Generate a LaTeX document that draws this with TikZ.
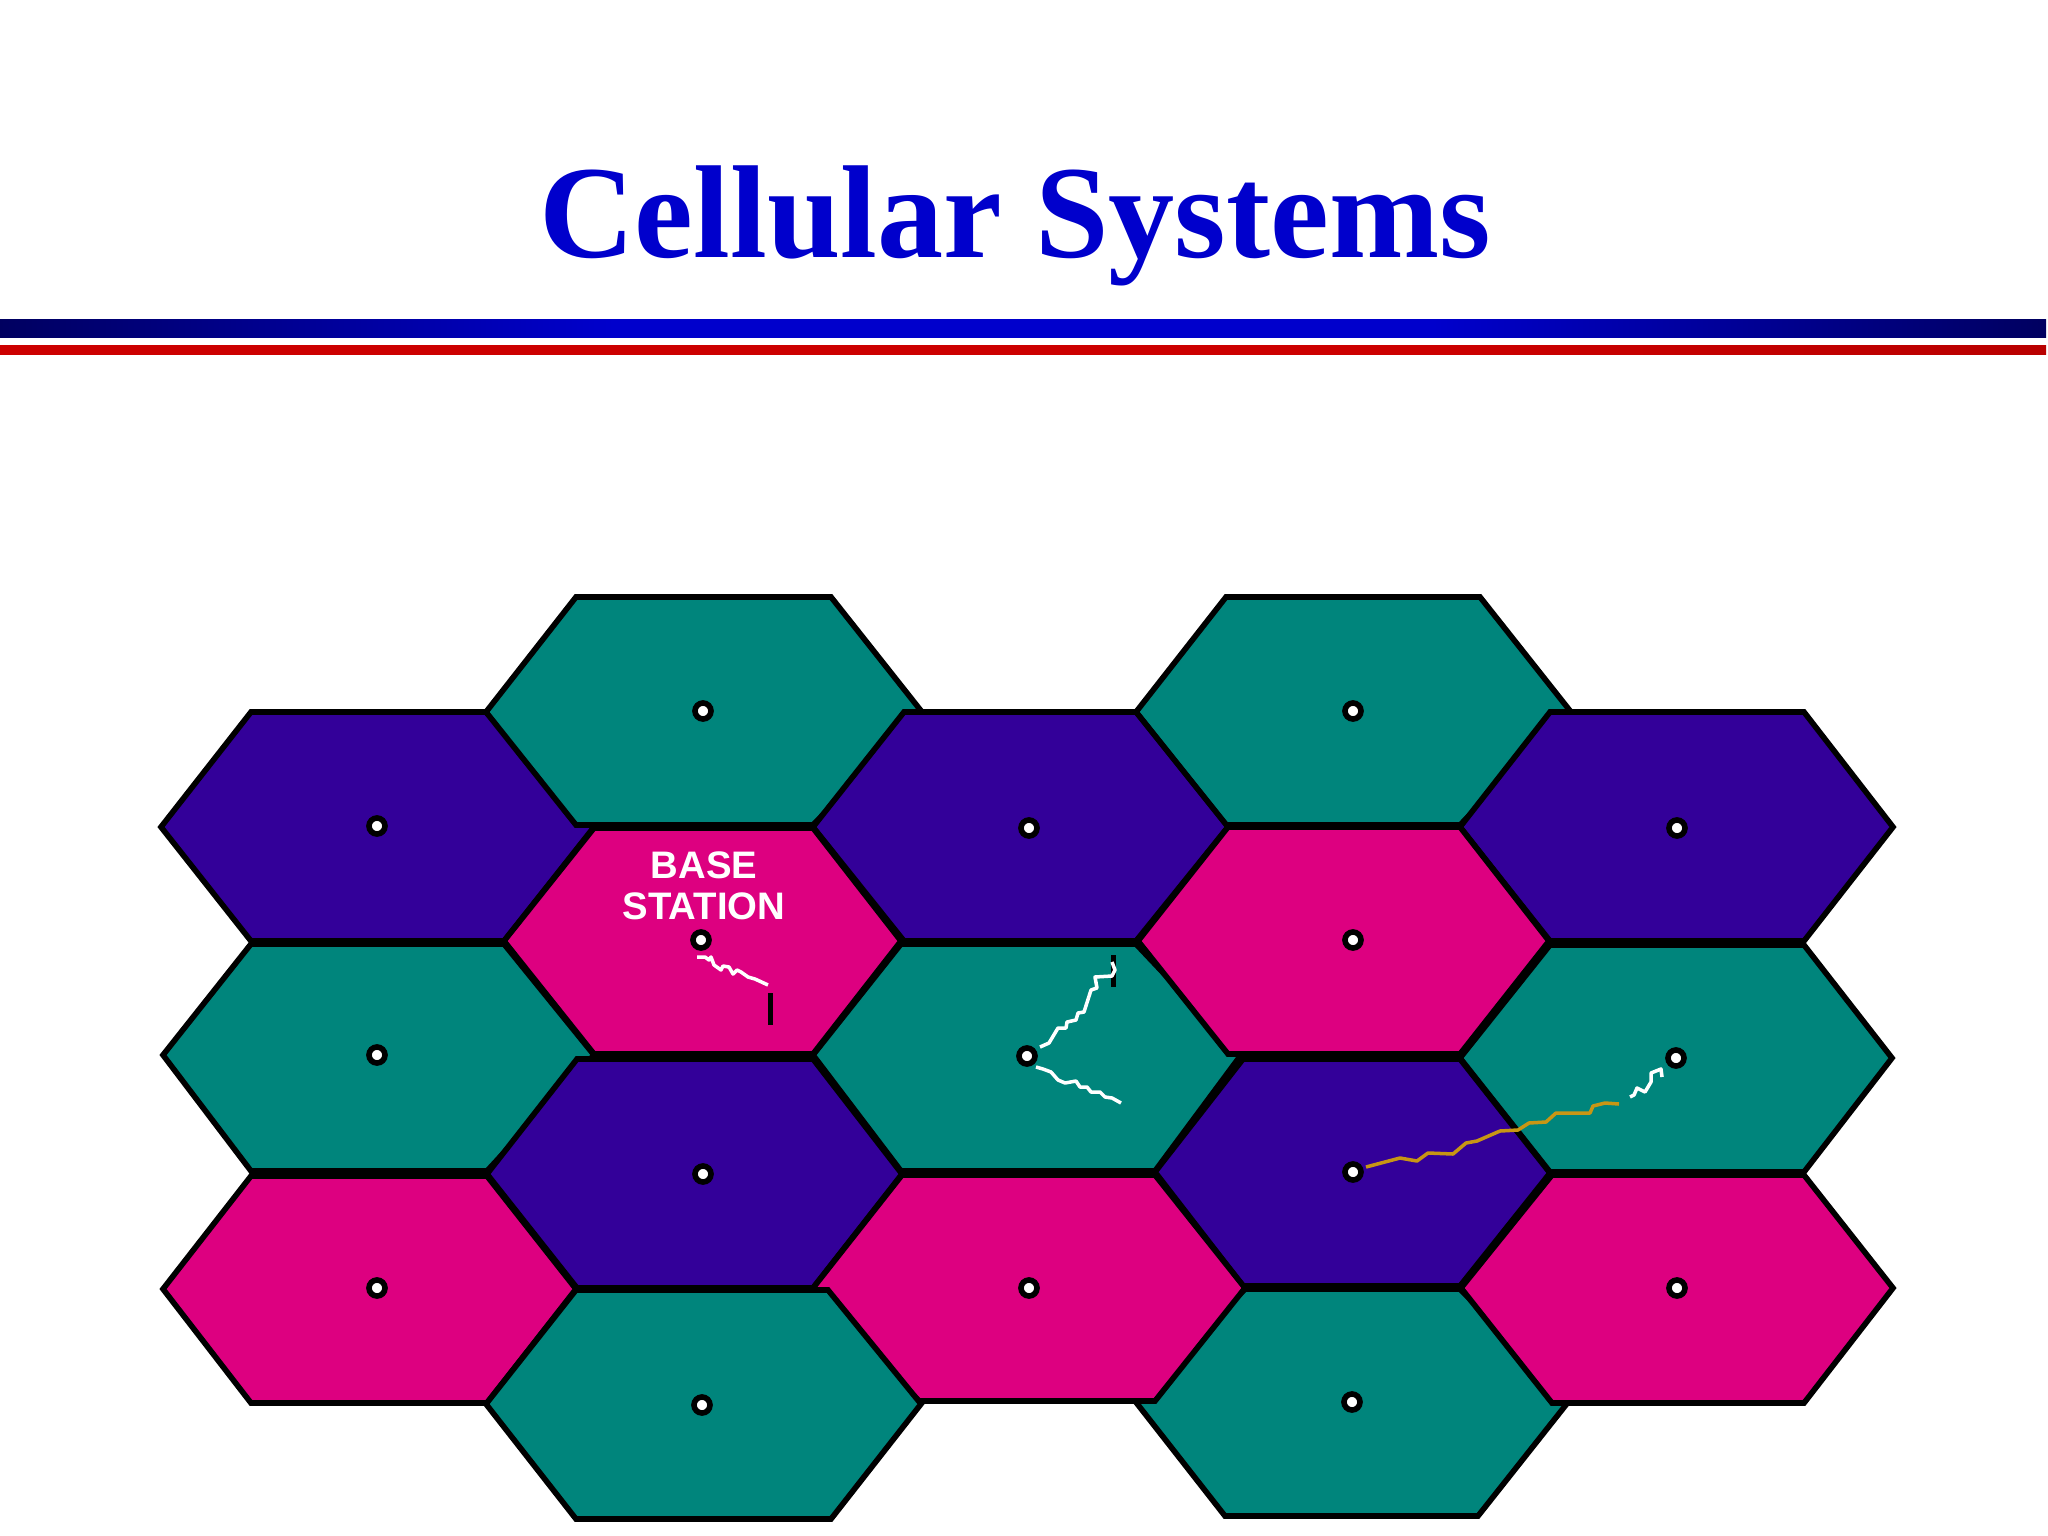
\documentclass[tikz,border=0pt]{standalone}
\usepackage{fontspec}
\setmainfont{Liberation Serif}
\newfontfamily\labelfont{Liberation Sans}
\usepackage{tikz}
\definecolor{cellteal}{RGB}{0,133,124}
\definecolor{cellpurple}{RGB}{51,0,153}
\definecolor{cellpink}{RGB}{221,0,128}
\definecolor{wavegold}{RGB}{200,150,20}
\definecolor{titleblue}{RGB}{0,0,204}
\definecolor{barnavy}{RGB}{0,0,96}
\definecolor{barred}{RGB}{204,0,0}
\definecolor{bardark}{RGB}{185,0,0}
\pgfdeclarehorizontalshading{bluebar}{100bp}{color(0bp)=(barnavy); color(25bp)=(barnavy); color(40bp)=(titleblue); color(60bp)=(titleblue); color(75bp)=(barnavy); color(100bp)=(barnavy)}
\pgfdeclarehorizontalshading{redbar}{100bp}{color(0bp)=(barred); color(60bp)=(barred); color(75bp)=(bardark); color(100bp)=(bardark)}
\tikzstyle{teal} = [draw=black, line width=1.6pt, fill=cellteal]
\tikzstyle{purple} = [draw=black, line width=1.6pt, fill=cellpurple]
\tikzstyle{pink} = [draw=black, line width=1.6pt, fill=cellpink]
\tikzstyle{station} = [circle, draw=black, fill=white, line width=1.6pt, minimum size=0.16cm, inner sep=0pt, outer sep=0pt]
\tikzstyle{handset} = [rectangle, fill=black, minimum width=0.05cm, minimum height=0.32cm, inner sep=0pt, outer sep=0pt]
\tikzstyle{wave} = [white, line width=1pt, line join=round]
\begin{document}
\begin{tikzpicture}[x=0.01cm, y=-0.01cm]
	\useasboundingbox (0,0) rectangle (2048,1536);
	\node (title) at (1015,226) {\fontsize{37.6pt}{40pt}\selectfont\bfseries\color{titleblue}Cellular Systems};
	\shade [shading=bluebar] (0,319) rectangle (2046,337);
	\shade [shading=redbar] (0,345) rectangle (2046,354);
	% upper rows
	\draw [purple] (161,827) -- (251,712) -- (486,712) -- (594,827) -- (504,941) -- (251,941) -- cycle;
	\draw [teal] (486,712) -- (576,597) -- (831,597) -- (922,712) -- (813,825) -- (576,825) -- cycle;
	\draw [teal] (1136,712) -- (1226,597) -- (1480,597) -- (1571,712) -- (1460,825) -- (1226,825) -- cycle;
	\draw [purple] (813,827) -- (904,712) -- (1136,712) -- (1228,827) -- (1136,941) -- (904,941) -- cycle;
	\draw [purple] (1460,827) -- (1550,712) -- (1804,712) -- (1893,827) -- (1804,941) -- (1550,941) -- cycle;
	% middle rows
	\draw [teal] (163,1055) -- (251,944) -- (504,944) -- (594,1055) -- (487,1171) -- (251,1171) -- cycle;
	\draw [teal] (813,1055) -- (901,944) -- (1136,944) -- (1241,1055) -- (1155,1171) -- (901,1171) -- cycle;
	\draw [teal] (1460,1058) -- (1550,945) -- (1804,945) -- (1892,1058) -- (1804,1172) -- (1550,1172) -- cycle;
	\draw [pink] (504,941) -- (594,828) -- (813,828) -- (901,941) -- (813,1054) -- (594,1054) -- cycle;
	\draw [pink] (1138,941) -- (1228,827) -- (1460,827) -- (1549,941) -- (1460,1054) -- (1228,1054) -- cycle;
	\draw [purple] (487,1174) -- (577,1059) -- (813,1059) -- (902,1174) -- (813,1288) -- (577,1288) -- cycle;
	\draw [purple] (1155,1172) -- (1243,1059) -- (1460,1059) -- (1550,1173) -- (1460,1286) -- (1243,1286) -- cycle;
	% lower rows
	\draw [pink] (163,1289) -- (251,1176) -- (487,1176) -- (576,1289) -- (487,1403) -- (251,1403) -- cycle;
	\draw [teal] (1135,1401) -- (1245,1289) -- (1460,1289) -- (1569,1401) -- (1478,1516) -- (1225,1516) -- cycle;
	\draw [pink] (1461,1288) -- (1552,1175) -- (1804,1175) -- (1893,1288) -- (1804,1403) -- (1552,1403) -- cycle;
	\draw [pink] (813,1288) -- (902,1175) -- (1155,1175) -- (1245,1288) -- (1155,1401) -- (919,1401) -- cycle;
	\draw [teal] (486,1404) -- (576,1290) -- (828,1290) -- (921,1404) -- (831,1519) -- (576,1519) -- cycle;
	% base stations
	\node (bs1) [station] at (703,711) {};
	\node (bs2) [station] at (1353,711) {};
	\node (bs3) [station] at (377,826) {};
	\node (bs4) [station] at (1029,828) {};
	\node (bs5) [station] at (1677,828) {};
	\node (bs6) [station] at (701,940) {};
	\node (bs7) [station] at (1353,940) {};
	\node (bs8) [station] at (377,1055) {};
	\node (bs9) [station] at (1027,1056) {};
	\node (bs10) [station] at (1676,1058) {};
	\node (bs11) [station] at (703,1174) {};
	\node (bs12) [station] at (1353,1172) {};
	\node (bs13) [station] at (377,1288) {};
	\node (bs14) [station] at (1029,1288) {};
	\node (bs15) [station] at (1677,1288) {};
	\node (bs16) [station] at (702,1405) {};
	\node (bs17) [station] at (1352,1402) {};
	\node (label) at (704,886) [white, align=center, font=\labelfont\bfseries\fontsize{10.9pt}{11.5pt}\selectfont] {BASE\\STATION};
	% mobiles
	\node (phone1) [handset] at (770,1009) {};
	\node (phone2) [handset] at (1113,971) {};
	\draw [wave] (697,957) -- (705,957) -- (709,960) -- (711,957) -- (714,965) -- (721,970) -- (723,966) -- (729,967) -- (733,974) -- (737,970) -- (741,972) -- (748,977) -- (755,979) -- (768,985);
	\draw [wave] (1040,1047) -- (1049,1043) -- (1058,1028) -- (1066,1028) -- (1067,1022) -- (1076,1020) -- (1078,1013) -- (1084,1012) -- (1091,990) -- (1097,988) -- (1095,977) -- (1112,976) -- (1115,970) -- (1112,962);
	\draw [wave] (1036,1067) -- (1043,1069) -- (1051,1072) -- (1058,1080) -- (1065,1083) -- (1076,1081) -- (1080,1087) -- (1087,1087) -- (1091,1092) -- (1100,1092) -- (1105,1097) -- (1112,1098) -- (1121,1103);
	\draw [wave, wavegold] (1366,1167) -- (1400,1158) -- (1417,1161) -- (1428,1153) -- (1453,1154) -- (1466,1143) -- (1477,1141) -- (1500,1131) -- (1518,1130) -- (1529,1123) -- (1546,1122) -- (1556,1113) -- (1590,1113) -- (1593,1106) -- (1605,1103) -- (1619,1104);
	\draw [wave] (1630,1097) -- (1634,1095) -- (1637,1088) -- (1645,1092) -- (1651,1082) -- (1651,1073) -- (1661,1069) -- (1662,1077);
\end{tikzpicture}
\end{document}
